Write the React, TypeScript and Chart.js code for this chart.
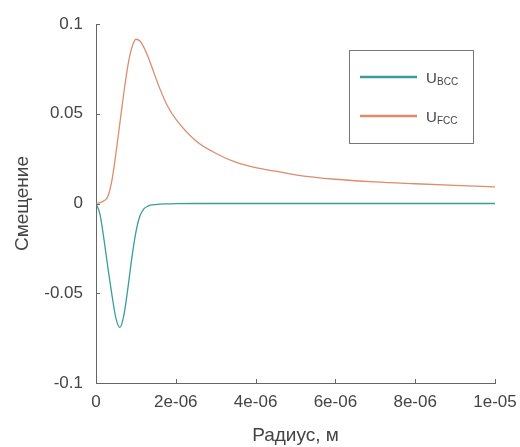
import React, { useEffect, useRef } from "react";
import { Chart, registerables } from "chart.js";

Chart.register(...registerables);

// Radius, micrometres (scaled by 1e-6 when plotted)
const radiusMicro = [0, 0.1, 0.2, 0.3, 0.4, 0.5, 0.6, 0.7, 0.8, 0.9, 1.0, 1.1, 1.2, 1.3, 1.4, 1.6, 1.8, 2.0, 2.5, 3.0, 3.5, 4.0, 4.5, 5.0, 6.0, 7.0, 8.0, 9.0, 10.0];
const uBCC = [0, -0.006, -0.02, -0.036, -0.051, -0.064, -0.069, -0.062, -0.047, -0.03, -0.016, -0.007, -0.003, -0.0015, -0.0008, -0.0003, -0.0002, -0.0001, 0, 0, 0, 0, 0, 0, 0, 0, 0, 0, 0];
const uFCC = [0, 0.0005, 0.0015, 0.004, 0.013, 0.028, 0.045, 0.062, 0.077, 0.087, 0.0915, 0.0905, 0.087, 0.082, 0.076, 0.064, 0.054, 0.047, 0.035, 0.028, 0.023, 0.02, 0.018, 0.016, 0.0135, 0.012, 0.011, 0.0101, 0.0093];

const xTickValues = [0, 2e-6, 4e-6, 6e-6, 8e-6, 1e-5];
const xTickLabels = ["0", "2e-06", "4e-06", "6e-06", "8e-06", "1e-05"];
const yTickValues = [-0.1, -0.05, 0, 0.05, 0.1];
const yTickLabels = ["-0.1", "-0.05", "0", "0.05", "0.1"];

const seriesNames = ["BCC", "FCC"];
const seriesColors = ["#3a9c9e", "#de8c6c"];
const xTitle = "Радиус, м";
const yTitle = "Смещение";

const FONT = "'Liberation Sans', Arial, sans-serif";

const innerTicks = {
  id: "innerTicks",
  afterDraw(chart: any) {
    const ctx = chart.ctx;
    const xs = chart.scales.x;
    const ys = chart.scales.y;
    const area = chart.chartArea;
    ctx.save();
    ctx.strokeStyle = "#666";
    ctx.lineWidth = 1;
    ctx.beginPath();
    xTickValues.forEach((v) => {
      const px = Math.round(xs.getPixelForValue(v)) + 0.5;
      ctx.moveTo(px, area.bottom);
      ctx.lineTo(px, area.bottom - 4);
    });
    yTickValues.forEach((v) => {
      const py = Math.round(ys.getPixelForValue(v)) + 0.5;
      ctx.moveTo(area.left, py);
      ctx.lineTo(area.left + 4, py);
    });
    ctx.stroke();
    ctx.restore();
  },
};

const customLegend = {
  id: "customLegend",
  afterDraw(chart: any) {
    const ctx = chart.ctx;
    const area = chart.chartArea;
    const bx = area.right - 146;
    const by = area.top + 26;
    const bw = 124;
    const bh = 93;
    ctx.save();
    ctx.fillStyle = "#ffffff";
    ctx.fillRect(bx, by, bw, bh);
    ctx.strokeStyle = "#777";
    ctx.lineWidth = 1;
    ctx.strokeRect(bx + 0.5, by + 0.5, bw, bh);
    seriesNames.forEach((name, i) => {
      const ly = by + 27 + i * 39;
      ctx.strokeStyle = seriesColors[i];
      ctx.lineWidth = 2.5;
      ctx.beginPath();
      ctx.moveTo(bx + 11, ly);
      ctx.lineTo(bx + 68, ly);
      ctx.stroke();
      ctx.fillStyle = "#444";
      ctx.textBaseline = "alphabetic";
      ctx.textAlign = "left";
      ctx.font = `15px ${FONT}`;
      ctx.fillText("U", bx + 77, ly + 6);
      ctx.font = `10px ${FONT}`;
      ctx.fillText(name, bx + 88, ly + 8);
    });
    ctx.restore();
  },
};

export default function App() {
  const ref = useRef<HTMLCanvasElement | null>(null);
  useEffect(() => {
    document.body.style.margin = "0";
    if (!ref.current) return;
    const chart = new Chart(ref.current, {
      type: "line",
      data: {
        datasets: [
          {
            label: "U_BCC",
            data: radiusMicro.map((r, i) => ({ x: r * 1e-6, y: uBCC[i] })),
            borderColor: seriesColors[0],
            borderWidth: 1.3,
            pointRadius: 0,
            cubicInterpolationMode: "monotone",
          },
          {
            label: "U_FCC",
            data: radiusMicro.map((r, i) => ({ x: r * 1e-6, y: uFCC[i] })),
            borderColor: seriesColors[1],
            borderWidth: 1.3,
            pointRadius: 0,
            cubicInterpolationMode: "monotone",
          },
        ],
      },
      options: {
        animation: false,
        responsive: false,
        maintainAspectRatio: false,
        layout: { padding: { top: 24, right: 25, left: 0, bottom: 0 } },
        plugins: {
          legend: { display: false },
          tooltip: { enabled: false },
        },
        scales: {
          x: {
            type: "linear",
            min: 0,
            max: 1e-5,
            afterBuildTicks: (s: any) => {
              s.ticks = xTickValues.map((v) => ({ value: v }));
            },
            afterFit: (s: any) => {
              s.height = 64;
              s.paddingLeft = 0;
              s.paddingRight = 0;
            },
            grid: { display: false, drawTicks: false },
            border: { display: true, color: "#666", width: 1 },
            ticks: {
              padding: 9,
              color: "#444",
              font: { family: FONT, size: 17 },
              maxRotation: 0,
              callback: (v: any) => {
                const idx = xTickValues.findIndex((t) => Math.abs(t - v) < 1e-9);
                return idx >= 0 ? xTickLabels[idx] : "";
              },
            },
            title: {
              display: true,
              text: xTitle,
              color: "#444",
              font: { family: FONT, size: 19 },
              padding: { top: 2, bottom: 0 },
            },
          },
          y: {
            type: "linear",
            min: -0.1,
            max: 0.1,
            afterBuildTicks: (s: any) => {
              s.ticks = yTickValues.map((v) => ({ value: v }));
            },
            afterFit: (s: any) => {
              s.width = 96;
              s.paddingTop = 0;
              s.paddingBottom = 0;
            },
            grid: { display: false, drawTicks: false },
            border: { display: true, color: "#666", width: 1 },
            ticks: {
              padding: 13,
              color: "#444",
              font: { family: FONT, size: 17 },
              callback: (v: any) => {
                const idx = yTickValues.findIndex((t) => Math.abs(t - v) < 1e-9);
                return idx >= 0 ? yTickLabels[idx] : "";
              },
            },
            title: {
              display: true,
              text: yTitle,
              color: "#444",
              font: { family: FONT, size: 19 },
              padding: { top: 11, bottom: 0 },
            },
          },
        },
      },
      plugins: [innerTicks, customLegend],
    } as any);
    return () => chart.destroy();
  }, []);
  return (
    <div style={{ width: 520, height: 447, background: "#fff" }}>
      <canvas ref={ref} width={520} height={447} style={{ display: "block" }} />
    </div>
  );
}
